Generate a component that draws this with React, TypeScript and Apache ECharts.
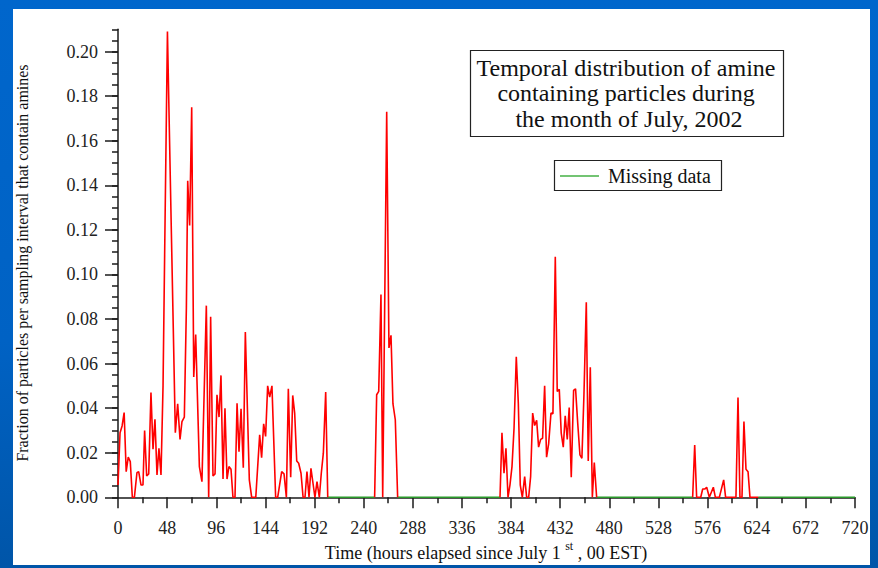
import React, { useEffect, useRef } from "react";
import * as echarts from "echarts";

// Observation period 1 (hours since July 1st, 00 EST)
const hoursA = [
  0, 2, 4, 6, 8, 10, 12, 14, 16, 18.5, 20.2, 22.5, 24.4, 26, 28, 30, 32.2, 34.2, 36.1, 38.1,
  40, 42, 44, 46, 48.3, 50, 52, 54, 56, 58.3, 60.6, 62.5, 64.8, 66.8, 68.1, 70, 72, 74, 75.9,
  79.5, 82, 86.3, 88.6, 90.5, 92.8, 94.8, 96.7, 98.7, 100.6, 102.6, 104.5, 106.5, 108.4,
  110.4, 112.3, 114.3, 116.3, 118.2, 120.2, 122.4, 124.4, 128.3, 130.6, 134.6, 138.4, 140.3,
  142.3, 144.2, 146.2, 148.2, 150.4, 154, 156, 159.9, 162.2, 164.5, 166.4, 168.7, 170.7,
  172.6, 174.6, 176.5, 178.8, 180.8, 182.7, 184.6, 186.6, 188.5, 190.5, 192.4, 194.4, 196.7,
  198.6, 200.6, 202.9, 204.9,
];
const valuesA = [
  0.0055, 0.029, 0.032, 0.038, 0.0115, 0.018, 0.016, 0, 0, 0.011, 0.0115, 0.0055, 0.0055, 0.03,
  0.0096, 0.0105, 0.047, 0.0216, 0.035, 0.01, 0.022, 0.01, 0.05, 0.125, 0.209, 0.169, 0.122,
  0.076, 0.029, 0.042, 0.026, 0.034, 0.036, 0.085, 0.142, 0.122, 0.175, 0.054, 0.073, 0.0138,
  0.007, 0.086, 0, 0.081, 0.0096, 0.0105, 0.046, 0.036, 0.0547, 0.0082, 0.04, 0.0082, 0.0138,
  0.0126, 0, 0, 0.0422, 0.0205, 0.0397, 0.0133, 0.0742, 0.0078, 0, 0, 0.028, 0.0178, 0.033,
  0.0273, 0.05, 0.045, 0.05, 0, 0, 0.0115, 0.0105, 0, 0.0487, 0.009, 0.0457, 0.0378, 0.0163,
  0.0153, 0.0108, 0, 0, 0.0115, 0, 0.013, 0.0063, 0, 0.007, 0, 0.0108, 0.0198, 0.0472, 0,
];

// Observation period 2
const hoursB = [250.7, 252.7, 254.7, 256.9, 258.6, 262.5, 264.7, 266.7, 268.6, 270.9, 273.2];
const valuesB = [0, 0.046, 0.0475, 0.091, 0, 0.173, 0.067, 0.0727, 0.042, 0.0348, 0];

// Observation period 3
const hoursC = [
  373.2, 375.1, 377.1, 379, 381, 382.9, 384.9, 386.9, 389.1, 391.1, 393, 395, 397.3, 399.2,
  401.2, 403.1, 405.1, 407, 409, 410.9, 412.9, 414.8, 416.8, 418.7, 420.7, 423, 424.9, 427.2,
  429.1, 431.1, 433, 435, 436.9, 438.9, 440.8, 442.8, 445.1, 447, 449, 451.3, 453.2, 455.2,
  457.5, 459.4, 461.4, 463.4, 465.3, 467.6,
];
const valuesC = [
  0, 0.029, 0.0108, 0.022, 0, 0.0055, 0.0138, 0.031, 0.063, 0.042, 0.0055, 0, 0.0093, 0, 0,
  0.0093, 0.0378, 0.0322, 0.0345, 0.0225, 0.026, 0.0265, 0.05, 0.018, 0.024, 0.0378, 0.0375,
  0.1079, 0.0475, 0.0485, 0.0288, 0.0225, 0.0366, 0.026, 0.0403, 0.009, 0.048, 0.0487, 0.034,
  0.019, 0.0175, 0.046, 0.0875, 0.0163, 0.0584, 0, 0.0156, 0,
];

// Observation period 4
const hoursD = [
  561.4, 563.4, 565.3, 569.3, 571.2, 573.2, 575.1, 577.7, 581.6, 583.6, 587.5, 591.7, 593.6,
  603.7, 605.7, 607.6, 609.6, 611.5, 613.5, 615.5, 617.4, 625.5,
];
const valuesD = [
  0, 0.0235, 0, 0, 0.0037, 0.0037, 0.0045, 0, 0.0045, 0, 0, 0.0078, 0, 0, 0.0448, 0, 0, 0.034,
  0.0126, 0.0115, 0, 0,
];

// Missing-data intervals (hours)
const missingStart = [204.9, 273.2, 467.6, 625.5];
const missingEnd = [250.7, 373.2, 561.4, 720];

const yMajorTicks = [0, 0.02, 0.04, 0.06, 0.08, 0.1, 0.12, 0.14, 0.16, 0.18, 0.2];

const titleLines = [
  "Temporal distribution of amine",
  "containing particles during",
  " the month of July, 2002",
];
const legendLabel = "Missing data";
const yAxisTitle = "Fraction of particles per sampling interval that contain amines";

const SERIF = "'Liberation Serif', 'Times New Roman', serif";

export default function App() {
  const ref = useRef<HTMLDivElement>(null);

  useEffect(() => {
    document.body.style.margin = "0";
    if (!ref.current) return;
    const chart = echarts.init(ref.current, undefined, { renderer: "svg" });

    const periods = [
      [hoursA, valuesA],
      [hoursB, valuesB],
      [hoursC, valuesC],
      [hoursD, valuesD],
    ];
    const redData: any[] = [];
    periods.forEach(([hs, vs], i) => {
      hs.forEach((h, j) => redData.push([h, vs[j]]));
      if (i < missingStart.length) {
        redData.push([(missingStart[i] + missingEnd[i]) / 2, null]);
      }
    });
    const greenData: any[] = [];
    missingStart.forEach((s, i) => {
      greenData.push([s, 0]);
      greenData.push([missingEnd[i], 0]);
      greenData.push([missingEnd[i], null]);
    });

    const axisColor = "#1a1a1a";

    chart.setOption({
      animation: false,
      backgroundColor: "transparent",
      grid: {
        left: 118,
        right: 23,
        top: 29.3,
        bottom: 70.7,
        outerBoundsMode: "none",
        containLabel: false,
      },
      xAxis: {
        type: "value",
        min: 0,
        max: 720,
        interval: 48,
        offset: 4,
        position: "bottom",
        axisLine: { show: true, lineStyle: { color: axisColor, width: 1.5 } },
        axisTick: { show: true, length: 11, lineStyle: { color: axisColor, width: 1.5 } },
        minorTick: {
          show: true,
          splitNumber: 2,
          length: 6,
          lineStyle: { color: axisColor, width: 1.5 },
        },
        splitLine: { show: false },
        axisLabel: {
          fontFamily: SERIF,
          fontSize: 18,
          color: "#222",
          margin: 18,
        },
      },
      yAxis: [
        {
          type: "value",
          position: "left",
          min: 0,
          max: 0.21,
          interval: 0.02,
          axisLine: { show: true, lineStyle: { color: axisColor, width: 1.5 } },
          axisTick: {
            show: true,
            length: 13,
            customValues: yMajorTicks,
            lineStyle: { color: axisColor, width: 1.5 },
          },
          splitLine: { show: false },
          axisLabel: {
            customValues: yMajorTicks,
            formatter: (v: number) => v.toFixed(2),
            fontFamily: SERIF,
            fontSize: 18,
            color: "#222",
            margin: 20,
          },
        },
        {
          type: "value",
          position: "left",
          min: 0,
          max: 0.21,
          interval: 0.005,
          axisLine: { show: false },
          axisTick: { show: true, length: 6, lineStyle: { color: axisColor, width: 1.5 } },
          axisLabel: { show: false },
          splitLine: { show: false },
        },
      ],
      series: [
        {
          name: "Missing data",
          type: "line",
          yAxisIndex: 0,
          data: greenData,
          showSymbol: false,
          symbol: "none",
          connectNulls: false,
          lineStyle: { color: "#2a9a2a", width: 1.5 },
          z: 2,
        },
        {
          name: "Fraction",
          type: "line",
          yAxisIndex: 0,
          data: redData,
          showSymbol: false,
          symbol: "none",
          connectNulls: false,
          lineStyle: { color: "#ff0000", width: 1.6 },
          z: 3,
        },
      ],
      graphic: [
        {
          type: "rect",
          shape: { x: 470.5, y: 50.5, width: 313, height: 86 },
          style: { fill: "#fff", stroke: "#222", lineWidth: 1.2 },
          z: 10,
        },
        {
          type: "text",
          x: 626,
          y: 93,
          z: 11,
          style: {
            text: titleLines.join("\n"),
            fontFamily: SERIF,
            fontSize: 24,
            lineHeight: 25.5,
            fill: "#111",
            align: "center",
            verticalAlign: "middle",
          },
        },
        {
          type: "rect",
          shape: { x: 554.5, y: 160.5, width: 167, height: 30 },
          style: { fill: "#fff", stroke: "#222", lineWidth: 1.2 },
          z: 10,
        },
        {
          type: "line",
          shape: { x1: 560, y1: 176, x2: 599, y2: 176 },
          style: { stroke: "#44b044", lineWidth: 1.5 },
          z: 11,
        },
        {
          type: "text",
          x: 608,
          y: 176,
          z: 11,
          style: {
            text: legendLabel,
            fontFamily: SERIF,
            fontSize: 20,
            fill: "#111",
            align: "left",
            verticalAlign: "middle",
          },
        },
        {
          type: "text",
          x: 22,
          y: 263,
          rotation: Math.PI / 2,
          z: 11,
          style: {
            text: yAxisTitle,
            fontFamily: SERIF,
            fontSize: 16,
            fill: "#111",
            align: "center",
            verticalAlign: "middle",
          },
        },
        {
          type: "text",
          x: 486,
          y: 553,
          z: 11,
          style: {
            text: "{a|Time (hours elapsed since July 1 }{s|st}{a| , 00 EST)}",
            align: "center",
            verticalAlign: "middle",
            rich: {
              a: {
                fontFamily: SERIF,
                fontSize: 18,
                lineHeight: 26,
                verticalAlign: "middle",
                fill: "#111",
                color: "#111",
              },
              s: {
                fontFamily: SERIF,
                fontSize: 12,
                lineHeight: 12,
                verticalAlign: "top",
                fill: "#111",
                color: "#111",
              },
            },
          },
        },
      ],
    });

    return () => {
      chart.dispose();
    };
  }, []);

  return (
    <div
      style={{
        position: "relative",
        width: 878,
        height: 568,
        background: "linear-gradient(180deg, #0066cc 0%, #0062c4 60%, #0055a8 100%)",
        overflow: "hidden",
      }}
    >
      <div
        style={{
          position: "absolute",
          left: 13,
          top: 9,
          width: 857,
          height: 556,
          background: "#ffffff",
        }}
      />
      <div
        ref={ref}
        style={{ position: "absolute", left: 0, top: 0, width: 878, height: 568 }}
      />
    </div>
  );
}
